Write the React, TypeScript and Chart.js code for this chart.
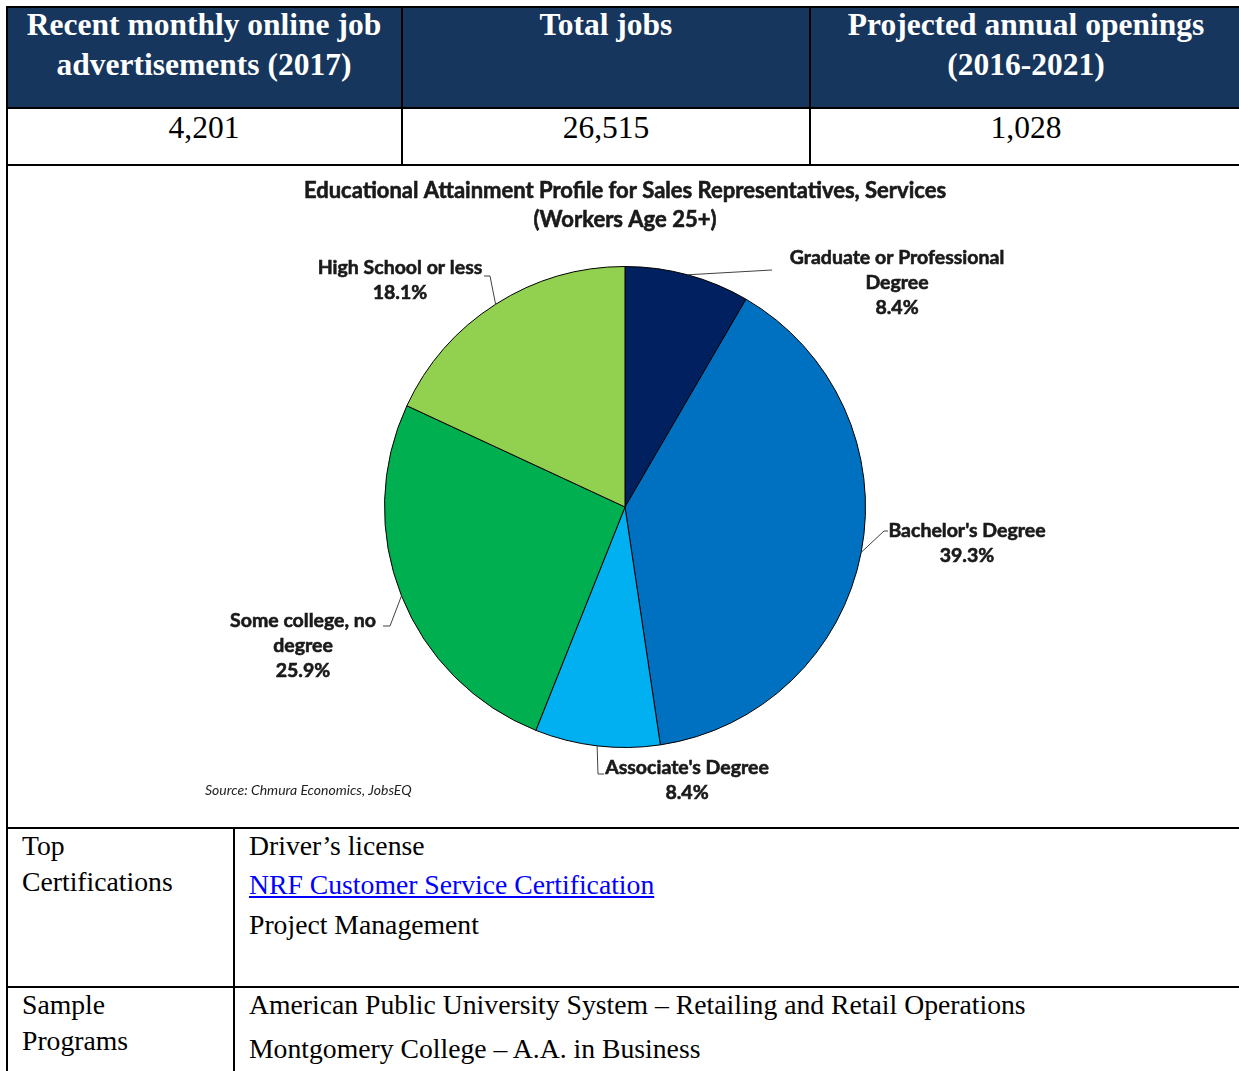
import React, { useEffect, useRef } from "react";
import { Chart, registerables } from "chart.js";

Chart.register(...registerables);

// ---- data ----
const categories = [
  "Graduate or Professional Degree",
  "Bachelor's Degree",
  "Associate's Degree",
  "Some college, no degree",
  "High School or less",
];
const shares = [8.4, 39.3, 8.4, 25.9, 18.1];
const sliceColors = ["#002060", "#0070C0", "#00B0F0", "#00B050", "#92D050"];
const labelLines = [
  ["Graduate or Professional", "Degree"],
  ["Bachelor's Degree"],
  ["Associate's Degree"],
  ["Some college, no", "degree"],
  ["High School or less"],
];
const chartTitle = [
  "Educational Attainment Profile for Sales Representatives, Services",
  "(Workers Age 25+)",
];
const sourceNote = "Source: Chmura Economics, JobsEQ";

const headerCols = [
  ["Recent monthly online job", "advertisements (2017)"],
  ["Total jobs"],
  ["Projected annual openings", "(2016-2021)"],
];
const headerValues = ["4,201", "26,515", "1,028"];
const certifications = ["Driver’s license", "NRF Customer Service Certification", "Project Management"];
const programs = [
  "American Public University System – Retailing and Retail Operations",
  "Montgomery College – A.A. in Business",
];

// ---- label layout (offsets from pie centre, px) ----
const labelLayout = [
  { tx: 272, ty: -249, path: [[147, -237]] },
  { tx: 342, ty: 24, path: [[259, 24], [263, 24]] },
  { tx: 62, ty: 261, path: [[-27, 267], [-21, 267]] },
  { tx: -322, ty: 114, path: [[-235, 119], [-242, 119]] },
  { tx: -225, ty: -239, path: [[-135, -231], [-141, -231]] },
];

const CANVAS_LEFT = 7;
const CANVAS_TOP = 166;
const CANVAS_W = 1232;
const CANVAS_H = 662;

const LABEL_FONT = "700 19.5px Lato";
const TITLE_FONT = "700 22px Lato";

function boldText(ctx: CanvasRenderingContext2D, t: string, x: number, y: number) {
  ctx.fillText(t, x, y);
  ctx.strokeText(t, x, y);
}

const labelPlugin = {
  id: "pieLabels",
  afterDraw(chart: any) {
    const ctx = chart.ctx as CanvasRenderingContext2D;
    const meta = chart.getDatasetMeta(0);
    ctx.save();
    ctx.fillStyle = "#1a1a1a";
    ctx.textAlign = "center";
    ctx.textBaseline = "middle";
    ctx.font = TITLE_FONT;
    ctx.strokeStyle = "#1a1a1a";
    ctx.lineWidth = 0.6;
    boldText(ctx, chartTitle[0], 618, 25);
    boldText(ctx, chartTitle[1], 618, 54);

    meta.data.forEach((arc: any, i: number) => {
      const p = arc.getProps(["x", "y", "startAngle", "endAngle", "outerRadius"], true);
      const mid = (p.startAngle + p.endAngle) / 2;
      const ax = p.x + Math.cos(mid) * p.outerRadius;
      const ay = p.y + Math.sin(mid) * p.outerRadius;
      const lay = labelLayout[i];
      ctx.strokeStyle = "#404040";
      ctx.lineWidth = 1;
      ctx.beginPath();
      ctx.moveTo(ax, ay);
      lay.path.forEach(([dx, dy]) => ctx.lineTo(p.x + dx, p.y + dy));
      ctx.stroke();
      const lines = [...labelLines[i], shares[i].toFixed(1) + "%"];
      ctx.font = LABEL_FONT;
      ctx.fillStyle = "#1a1a1a";
      ctx.strokeStyle = "#1a1a1a";
      ctx.lineWidth = 0.6;
      lines.forEach((t, k) => boldText(ctx, t, p.x + lay.tx, p.y + lay.ty + k * 25));
    });

    ctx.font = "italic 14px Lato";
    ctx.textAlign = "left";
    ctx.fillStyle = "#222";
    ctx.fillText(sourceNote, 198, 624);
    ctx.restore();
  },
};

function PieChart() {
  const ref = useRef<HTMLCanvasElement | null>(null);
  useEffect(() => {
    if (!ref.current) return;
    const chart = new Chart(ref.current, {
      type: "pie",
      data: {
        labels: categories,
        datasets: [
          {
            data: shares,
            backgroundColor: sliceColors,
            borderColor: "#000000",
            borderWidth: 1,
          },
        ],
      },
      options: {
        animation: false,
        responsive: false,
        devicePixelRatio: 1,
        layout: { padding: { left: 377, right: 373, top: 100, bottom: 80 } },
        plugins: { legend: { display: false }, tooltip: { enabled: false } },
      },
      plugins: [labelPlugin],
    });
    return () => chart.destroy();
  }, []);
  return (
    <canvas
      ref={ref}
      width={CANVAS_W}
      height={CANVAS_H}
      style={{ position: "absolute", left: CANVAS_LEFT, top: CANVAS_TOP, width: CANVAS_W, height: CANVAS_H }}
    />
  );
}

const serif = "'Liberation Serif', serif";

function Line({ x, y, w, h }: { x: number; y: number; w: number; h: number }) {
  return <div style={{ position: "absolute", left: x, top: y, width: w, height: h, background: "#000" }} />;
}

function Txt({ x, cy, children, size, bold, color, center, w, underline }: any) {
  const lh = 36;
  return (
    <div
      style={{
        position: "absolute",
        left: center ? x - (w || 400) / 2 : x,
        width: center ? w || 400 : undefined,
        top: cy - lh / 2,
        height: lh,
        lineHeight: lh + "px",
        fontFamily: serif,
        fontSize: size,
        fontWeight: bold ? "bold" : "normal",
        color: color || "#000",
        textAlign: center ? "center" : "left",
        whiteSpace: "nowrap",
        textDecoration: underline ? "underline" : "none",
      }}
    >
      {children}
    </div>
  );
}

export default function App() {
  const colCenters = [204, 606, 1026];
  const body = 27.7;
  return (
    <div style={{ position: "absolute", left: 0, top: 0, width: 1239, height: 1071, overflow: "hidden", background: "#fff" }}>
      <div style={{ position: "absolute", left: 7, top: 8, width: 1232, height: 100, background: "#17365d" }} />
      <Line x={6} y={6} w={1233} h={2} />
      <Line x={6} y={6} w={2} h={1065} />
      <Line x={401} y={8} w={2} h={157} />
      <Line x={809} y={8} w={2} h={157} />
      <Line x={6} y={107} w={1233} h={2} />
      <Line x={6} y={164} w={1233} h={2} />
      <Line x={6} y={827} w={1233} h={2} />
      <Line x={233} y={828} w={2} h={243} />
      <Line x={6} y={986} w={1233} h={2} />

      {headerCols.map((lines, i) =>
        lines.map((t, k) => (
          <Txt key={i + "-" + k} x={colCenters[i]} cy={25 + k * 40} size={31.5} bold color="#fff" center w={420}>
            {t}
          </Txt>
        ))
      )}
      {headerValues.map((v, i) => (
        <Txt key={"v" + i} x={colCenters[i]} cy={128} size={31.5} center w={400}>
          {v}
        </Txt>
      ))}

      <PieChart />

      <Txt x={22} cy={846} size={body}>Top</Txt>
      <Txt x={22} cy={882} size={body}>Certifications</Txt>
      <Txt x={249} cy={846} size={body}>{certifications[0]}</Txt>
      <Txt x={249} cy={885} size={body} color="#0000ff" underline>{certifications[1]}</Txt>
      <Txt x={249} cy={925} size={body}>{certifications[2]}</Txt>
      <Txt x={22} cy={1005} size={body}>Sample</Txt>
      <Txt x={22} cy={1041} size={body}>Programs</Txt>
      <Txt x={249} cy={1005} size={body}>{programs[0]}</Txt>
      <Txt x={249} cy={1049} size={body}>{programs[1]}</Txt>
    </div>
  );
}
